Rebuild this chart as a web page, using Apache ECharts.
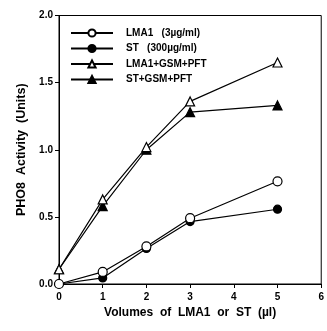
<!DOCTYPE html>
<html><head><meta charset="utf-8">
<script src="https://cdn.jsdelivr.net/npm/echarts@6/dist/echarts.min.js"></script>
<style>html,body{margin:0;padding:0;background:#fff}#c{width:327px;height:331px}</style>
</head><body><div id="c"></div>
<script>
const xValues = [0, 1, 2, 3, 5];
const lma1 = [0, 0.09, 0.28, 0.49, 0.765];
const st = [0, 0.045, 0.265, 0.465, 0.557];
const lma1Gsm = [0.11, 0.63, 1.02, 1.36, 1.65];
const stGsm = [0.11, 0.58, 1.0, 1.28, 1.33];
const seriesNames = ['LMA1   (3µg/ml)', 'ST   (300µg/ml)', 'LMA1+GSM+PFT', 'ST+GSM+PFT'];
const xTicks = [0, 1, 2, 3, 4, 5, 6];
const yTicks = ['0.0', '0.5', '1.0', '1.5', '2.0'];

const font = '"Liberation Sans", Arial, sans-serif';
function pairs(v){ return xValues.map((x,i)=>[x, v[i]]); }
function mk(name, data, symbol, filled, size, z){
  return {
    name, type:'line', data: pairs(data), symbol, symbolSize:size,
    showSymbol:true, z,
    lineStyle:{color:'#000', width:1.2},
    itemStyle:{color: filled ? '#000' : '#fff', borderColor:'#000', borderWidth:1.2},
    emphasis:{disabled:true}, animation:false
  };
}
const chart = echarts.init(document.getElementById('c'), null, {renderer:'canvas'});
chart.setOption({
  animation:false,
  backgroundColor:'#fff',
  grid:{left:59, right:2, top:15.5, bottom:47, show:true, borderColor:'#000', borderWidth:1, backgroundColor:'transparent'},
  legend:{
    left:65, top:23, orient:'vertical', itemWidth:42, itemHeight:9, itemGap:5.5,
    data: seriesNames,
    textStyle:{fontFamily:font, fontWeight:'bold', fontSize:10, color:'#000', padding:[0,0,0,8]}
  },
  xAxis:{
    type:'value', min:0, max:6, interval:1,
    axisLine:{show:true, lineStyle:{color:'#000', width:1}},
    axisTick:{show:true, length:4, lineStyle:{color:'#000'}},
    axisLabel:{fontFamily:font, fontWeight:'bold', fontSize:10, color:'#000', margin:8,
      formatter:(v)=> String(xTicks[Math.round(v)])},
    splitLine:{show:false},
    name:'Volumes  of  LMA1  or  ST  (µl)', nameLocation:'middle', nameGap:22,
    nameTextStyle:{fontFamily:font, fontWeight:'bold', fontSize:12, color:'#000'}
  },
  yAxis:{
    type:'value', min:0, max:2, interval:0.5,
    axisLine:{show:true, lineStyle:{color:'#000', width:1}},
    axisTick:{show:true, length:4, lineStyle:{color:'#000'}},
    axisLabel:{fontFamily:font, fontWeight:'bold', fontSize:10, color:'#000', margin:6,
      formatter:(v)=> yTicks[Math.round(v*2)]},
    splitLine:{show:false},
    name:'PHO8  Activity  (Units)', nameLocation:'middle', nameGap:26,
    nameTextStyle:{fontFamily:font, fontWeight:'bold', fontSize:12.5, color:'#000'}
  },
  series:[
    mk(seriesNames[0], lma1, 'circle', false, 9, 4),
    mk(seriesNames[1], st, 'circle', true, 8, 3),
    mk(seriesNames[2], lma1Gsm, 'triangle', false, 9, 4),
    mk(seriesNames[3], stGsm, 'triangle', true, 9, 3)
  ]
});
</script></body></html>
